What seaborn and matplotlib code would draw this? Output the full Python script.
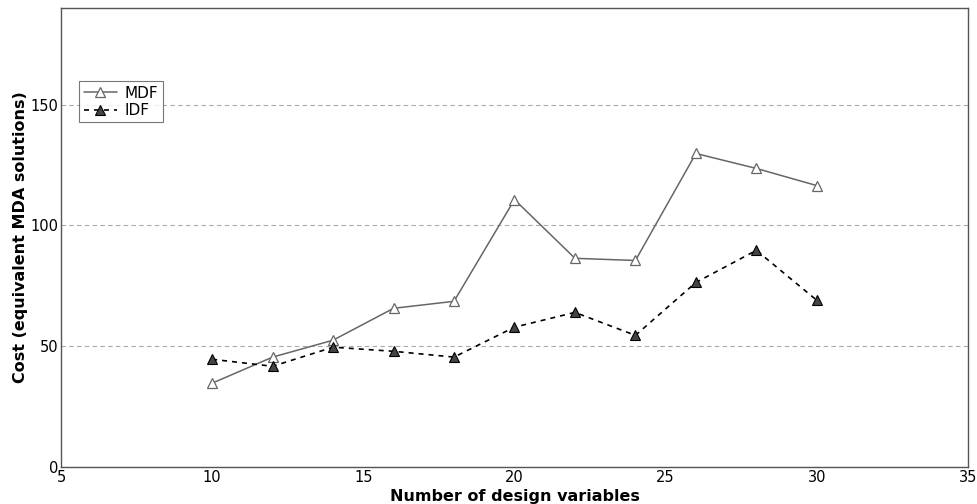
import matplotlib
matplotlib.use("Agg")
import matplotlib.pyplot as plt
import seaborn as sns
import pandas as pd
from matplotlib.ticker import MultipleLocator

design_vars = [10, 12, 14, 16, 18, 20, 22, 24, 26, 28, 30]
mdf_cost = [34.7, 45.5, 52.5, 65.7, 68.6, 110.7, 86.4, 85.5, 129.8, 123.6, 116.5]
idf_cost = [44.6, 41.7, 49.6, 47.9, 45.5, 57.9, 64.0, 54.5, 76.4, 89.7, 69.0]

df = pd.DataFrame({
    "x": design_vars * 2,
    "cost": mdf_cost + idf_cost,
    "method": ["MDF"] * len(design_vars) + ["IDF"] * len(design_vars),
})

sns.set_style("white")
plt.rcParams['font.family'] = ['DejaVu Sans']
plt.rcParams['text.color'] = 'black'
plt.rcParams['axes.labelcolor'] = 'black'

fig, ax = plt.subplots(figsize=(9.77, 5.04), dpi=100)
fig.subplots_adjust(left=0.0624, right=0.9908, top=0.984, bottom=0.0734)

sns.lineplot(data=df[df.method == "MDF"], x="x", y="cost", ax=ax, color="#666666",
             linewidth=1.1, marker="^", markersize=7, markerfacecolor="white",
             markeredgecolor="#666666", markeredgewidth=0.9, label="MDF")
sns.lineplot(data=df[df.method == "IDF"], x="x", y="cost", ax=ax, color="black",
             linewidth=1.2, linestyle=(0, (3, 3)), marker="^", markersize=7,
             markerfacecolor="#444444", markeredgecolor="black",
             markeredgewidth=0.8, label="IDF")

ax.set_xlim(5, 35)
ax.set_ylim(0, 190)
ax.xaxis.set_major_locator(MultipleLocator(5))
ax.xaxis.set_minor_locator(MultipleLocator(1))
ax.yaxis.set_major_locator(MultipleLocator(50))
ax.yaxis.set_minor_locator(MultipleLocator(10))
ax.tick_params(which="both", direction="in", top=False, right=False, colors="#555555",
               labelcolor="black", labelsize=10.5, pad=2)
ax.tick_params(which="major", length=5)
ax.tick_params(which="minor", length=3)
ax.yaxis.grid(True, which="major", linestyle=(0, (4, 3)), color="#aaaaaa", linewidth=0.8)
for s in ax.spines.values():
    s.set_color("#555555")
    s.set_linewidth(1.0)

ax.set_xlabel("Number of design variables", fontsize=11.5, fontweight="bold",
              labelpad=3, color="black")
ax.set_ylabel("Cost (equivalent MDA solutions)", fontsize=11.5, fontweight="bold",
              labelpad=1.5, color="black")

leg = ax.legend(loc="upper left", bbox_to_anchor=(0.0198, 0.841), borderaxespad=0,
                fontsize=11, frameon=True, fancybox=False, edgecolor="#555555",
                handlelength=2.2, borderpad=0.3, labelspacing=0.15, handletextpad=0.5)
leg.get_frame().set_linewidth(0.8)
for t in leg.get_texts():
    t.set_color("black")

fig.savefig("out.png", dpi=100)
